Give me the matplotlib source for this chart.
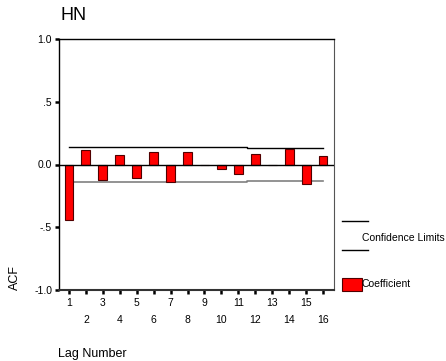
import matplotlib
matplotlib.use("Agg")
import matplotlib.pyplot as plt
from matplotlib.lines import Line2D
from matplotlib.patches import Rectangle
import numpy as np

plt.rcParams['font.family'] = ['Liberation Sans', 'DejaVu Sans']

lags = [1, 2, 3, 4, 5, 6, 7, 8, 9, 10, 11, 12, 13, 14, 15, 16]
acf = [-0.446, 0.117, -0.12, 0.072, -0.104, 0.101, -0.141, 0.101,
       0.0, -0.034, -0.072, 0.085, 0.0, 0.127, -0.159, 0.064]
upper_conf = [0.142, 0.142, 0.142, 0.142, 0.142, 0.142, 0.142, 0.142,
              0.142, 0.142, 0.142, 0.134, 0.134, 0.134, 0.134, 0.134]
lower_conf = [-0.142, -0.142, -0.142, -0.142, -0.142, -0.142, -0.142, -0.142,
              -0.142, -0.142, -0.142, -0.134, -0.134, -0.134, -0.134, -0.134]
yticks = [-1.0, -0.5, 0.0, 0.5, 1.0]
ytick_labels = ["-1.0", "-.5", "0.0", ".5", "1.0"]

W, H = 446, 361
fig = plt.figure(figsize=(W / 100, H / 100), dpi=100)

def fx(x):
    return x / W

def fy(y):
    return 1 - y / H

ax = fig.add_axes([fx(59), fy(290), (334 - 59) / W, (290 - 39) / H])

ax.bar(lags, acf, width=0.53, color='#ff0000', edgecolor='#500000', linewidth=0.8, zorder=3)
ax.axhline(0, color='black', linewidth=1.0, zorder=4)
ax.step(lags, upper_conf, where='mid', color='black', linewidth=1.0, zorder=2)
ax.step(lags, lower_conf, where='mid', color='#808080', linewidth=1.2, zorder=2)

ax.set_xlim(0.41, 16.65)
ax.set_ylim(-1.0, 1.0)

odd = [l for l in lags if l % 2 == 1]
even = [l for l in lags if l % 2 == 0]
ax.set_xticks(odd, [str(l) for l in odd])
ax.set_xticks(even, [str(l) for l in even], minor=True)
ax.tick_params(axis='x', which='major', length=3, width=1.8, pad=3, labelsize=7.5, color='black')
ax.tick_params(axis='x', which='minor', length=3, width=1.8, pad=15, labelsize=7.5, color='black')
ax.set_yticks(yticks, ytick_labels)
ax.tick_params(axis='y', length=3, width=1.8, pad=2, labelsize=7.5)

for s in ['left', 'top', 'bottom']:
    ax.spines[s].set_color('black')
    ax.spines[s].set_linewidth(1.0)
ax.spines['bottom'].set_color('#333333')
ax.spines['bottom'].set_linewidth(1.5)
ax.spines['right'].set_color('#555555')

fig.text(fx(60), fy(16), "HN", fontsize=13, ha='left', va='center')
fig.text(fx(58), fy(354), "Lag Number", fontsize=9, ha='left', va='center')
fig.text(fx(15), fy(277), "ACF", fontsize=9, ha='center', va='center', rotation=90)

# legend
fig.add_artist(Line2D([fx(342), fx(368)], [fy(221), fy(221)], color='black', linewidth=1.0))
fig.add_artist(Line2D([fx(342), fx(368)], [fy(250), fy(250)], color='black', linewidth=1.0))
fig.text(fx(362), fy(238), "Confidence Limits", fontsize=7.5, ha='left', va='center')
fig.add_artist(Rectangle((fx(342), fy(291)), fx(362) - fx(342), fy(278) - fy(291),
                         facecolor='#ff0000', edgecolor='#500000', linewidth=0.8,
                         transform=fig.transFigure))
fig.text(fx(362), fy(284), "Coefficient", fontsize=7.5, ha='left', va='center')

fig.savefig("out.png", dpi=100)
